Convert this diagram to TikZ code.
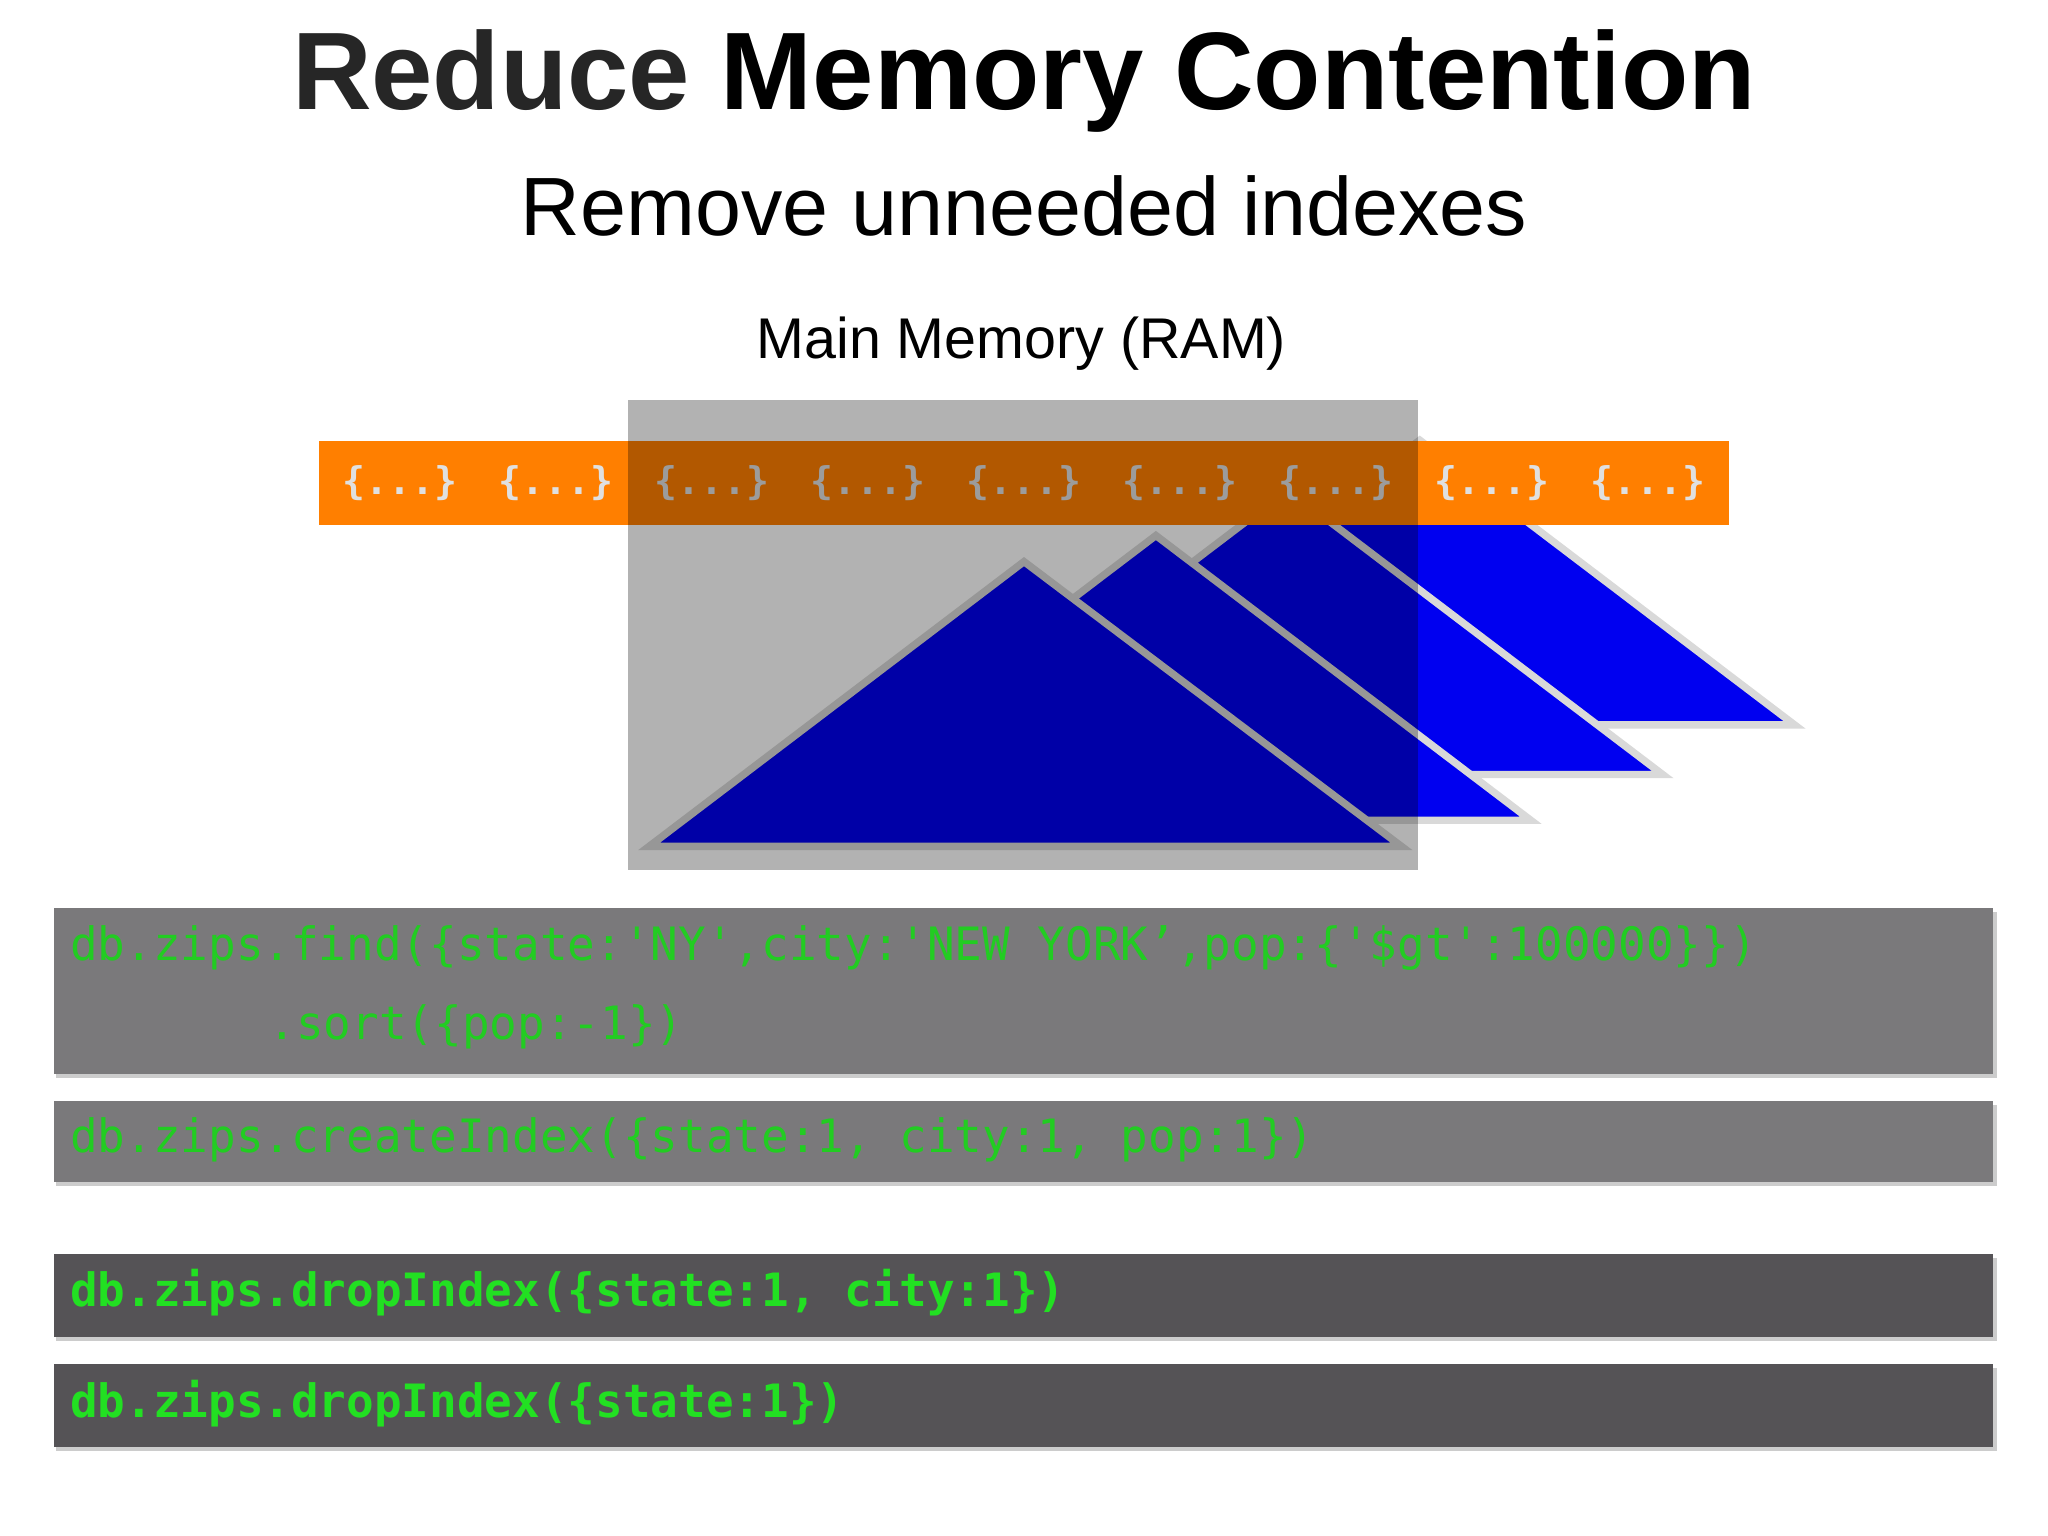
\documentclass[tikz,border=0pt]{standalone}
\usepackage{fontspec}
\setmainfont{Liberation Sans}
\newfontfamily\codefont{DejaVu Sans Mono}
\usetikzlibrary{positioning}
\definecolor{orng}{HTML}{FF7F00}
\definecolor{blu}{HTML}{0000F0}
\definecolor{codegreen}{HTML}{22CC22}
\definecolor{codegreenb}{HTML}{22E022}
\definecolor{boxA}{HTML}{7A797B}
\definecolor{boxB}{HTML}{555356}
\tikzset{
  tri/.style={fill=blu, draw=white!85!black, line width=1.6pt, line join=miter},
  codebox/.style={inner sep=0pt, minimum height=#1, anchor=north west, text width=0pt},
  code/.style={anchor=west, inner sep=0pt, font=\codefont\fontsize{10}{12}\selectfont},
  brace/.style={inner sep=0pt, text=white!88!black, font=\codefont\bfseries\fontsize{8.3}{10}\selectfont}
}
\begin{document}
\begin{tikzpicture}[x=0.01cm,y=-0.01cm]
\useasboundingbox (0,0) rectangle (1568,1176);
\node[font=\bfseries\fontsize{24}{28}\selectfont] (title) at (784,62) {\textcolor{black!85}{Reduce} Memory Contention};
\node[font=\fontsize{18}{22}\selectfont] (sub) at (784,158) {Remove unneeded indexes};
\node[font=\fontsize{12.5}{15}\selectfont] (ram) at (782,263) {Main Memory (RAM)};
% triangles back to front
\path[tri] (1087,337) -- (1374,555) -- (800,555) -- cycle;
\path[tri] (986,375) -- (1273,593) -- (699,593) -- cycle;
\path[tri] (885,410) -- (1172,628) -- (598,628) -- cycle;
\path[tri] (784,430) -- (1073,648) -- (497,648) -- cycle;
% orange bar
\fill[orng] (244,338) rectangle (1324,402);
\foreach \i in {0,...,8}{
  \node[brace] (b\i) at (306+\i*119.5,370) {\{...\}};
}
% memory window
\fill[black!30, blend mode=multiply] (481,306) rectangle (1086,666);
% code boxes
\fill[black!20] (43,698) rectangle (1529,825);
\fill[boxA] (41,695) rectangle (1526,822);
\fill[black!20] (43,846) rectangle (1529,908);
\fill[boxA] (41,843) rectangle (1526,905);
\fill[black!20] (43,963) rectangle (1529,1027);
\fill[boxB] (41,960) rectangle (1526,1024);
\fill[black!20] (43,1047) rectangle (1529,1111);
\fill[boxB] (41,1044) rectangle (1526,1108);
\node[code, text=codegreen] (c1) at (53,726) {db.zips.find(\{state:'NY',city:'NEW YORK’,pop:\{'\$gt':100000\}\})};
\node[code, text=codegreen] (c1b) at (205,786) {.sort(\{pop:-1\})};
\node[code, text=codegreen] (c2) at (53,873) {db.zips.createIndex(\{state:1, city:1, pop:1\})};
\node[code, text=codegreenb, font=\codefont\bfseries\fontsize{10}{12}\selectfont] (c3) at (53,990) {db.zips.dropIndex(\{state:1, city:1\})};
\node[code, text=codegreenb, font=\codefont\bfseries\fontsize{10}{12}\selectfont] (c4) at (53,1075) {db.zips.dropIndex(\{state:1\})};
\end{tikzpicture}
\end{document}
